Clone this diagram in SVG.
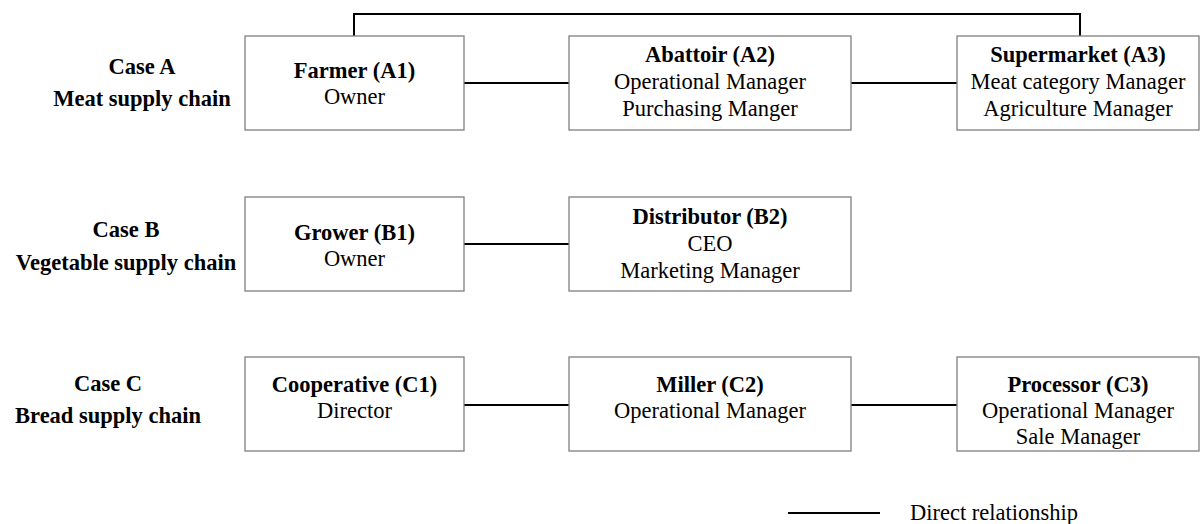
<svg xmlns="http://www.w3.org/2000/svg" width="1202" height="524" viewBox="0 0 1202 524">
<style>
.box{fill:#fff;stroke:#7f7f7f;stroke-width:1.3}
.t{font-family:"Liberation Serif","Times New Roman",serif;font-size:22.5px;fill:#000;text-anchor:middle}
.b{font-weight:bold}
.c{fill:none;stroke:#000;stroke-width:2}
</style>
<rect width="1202" height="524" fill="#fff"/>
<g id="connectors">
<polyline class="c" points="354,36 354,14 1080,14 1080,36"/>
<line class="c" x1="464" y1="83" x2="569" y2="83"/>
<line class="c" x1="851" y1="83" x2="957" y2="83"/>
<line class="c" x1="464" y1="244" x2="569" y2="244"/>
<line class="c" x1="464" y1="405" x2="569" y2="405"/>
<line class="c" x1="851" y1="405" x2="957" y2="405"/>
</g>
<g id="caseA"><text class="t b" x="142" y="74">Case A</text><text class="t b" x="142" y="106">Meat supply chain</text></g>
<g id="caseB"><text class="t b" x="126" y="237">Case B</text><text class="t b" x="126" y="270">Vegetable supply chain</text></g>
<g id="caseC"><text class="t b" x="108" y="391">Case C</text><text class="t b" x="108" y="423">Bread supply chain</text></g>
<g id="A1"><rect class="box" x="245" y="36" width="219" height="94"/><text class="t b" x="354.5" y="78">Farmer (A1)</text><text class="t" x="354.5" y="104">Owner</text></g>
<g id="A2"><rect class="box" x="569" y="36" width="282" height="94"/><text class="t b" x="710" y="62">Abattoir (A2)</text><text class="t" x="710" y="89">Operational Manager</text><text class="t" x="710" y="116">Purchasing Manger</text></g>
<g id="A3"><rect class="box" x="957" y="36" width="242" height="94"/><text class="t b" x="1078" y="62">Supermarket (A3)</text><text class="t" x="1078" y="89">Meat category Manager</text><text class="t" x="1078" y="116">Agriculture Manager</text></g>
<g id="B1"><rect class="box" x="245" y="197" width="219" height="94"/><text class="t b" x="354.5" y="240">Grower (B1)</text><text class="t" x="354.5" y="266">Owner</text></g>
<g id="B2"><rect class="box" x="569" y="197" width="282" height="94"/><text class="t b" x="710" y="224">Distributor (B2)</text><text class="t" x="710" y="251">CEO</text><text class="t" x="710" y="278">Marketing Manager</text></g>
<g id="C1"><rect class="box" x="245" y="357" width="219" height="94"/><text class="t b" x="354.5" y="392">Cooperative (C1)</text><text class="t" x="354.5" y="418">Director</text></g>
<g id="C2"><rect class="box" x="569" y="357" width="282" height="94"/><text class="t b" x="710" y="392">Miller (C2)</text><text class="t" x="710" y="418">Operational Manager</text></g>
<g id="C3"><rect class="box" x="957" y="357" width="242" height="94"/><text class="t b" x="1078" y="392">Processor (C3)</text><text class="t" x="1078" y="418">Operational Manager</text><text class="t" x="1078" y="444">Sale Manager</text></g>
<g id="legend"><line class="c" x1="788" y1="513" x2="880" y2="513"/><text class="t" x="910" y="520" style="text-anchor:start">Direct relationship</text></g>
</svg>
